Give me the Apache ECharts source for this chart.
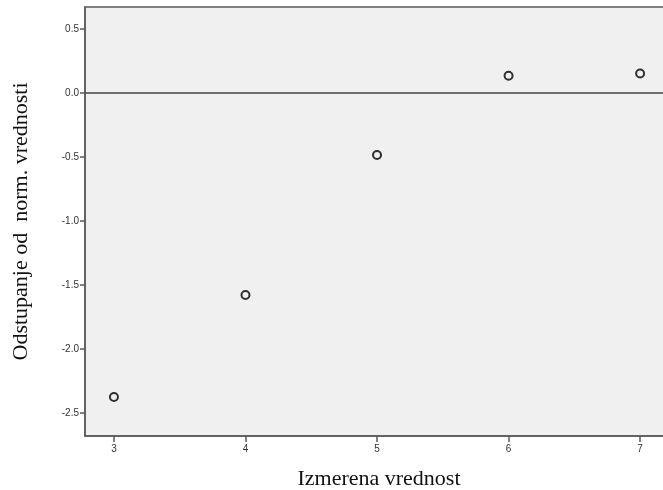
<!DOCTYPE html>
<html>
<head>
<meta charset="utf-8">
<script src="https://cdn.jsdelivr.net/npm/echarts@6/dist/echarts.min.js"></script>
<style>
  html, body { margin: 0; padding: 0; background: #ffffff; }
  #chart { width: 663px; height: 490px; }
</style>
</head>
<body>
<div id="chart"></div>
<script>
// Measured value vs. deviation from normal value
const measured = [3, 4, 5, 6, 7];
const deviation = [-2.375, -1.578, -0.484, 0.135, 0.152];
const xTicks = [3, 4, 5, 6, 7];
const yTicks = [-2.5, -2.0, -1.5, -1.0, -0.5, 0.0, 0.5];
const xTitle = 'Izmerena vrednost';
const yTitle = 'Odstupanje od  norm. vrednosti';

const points = measured.map((x, i) => [x, deviation[i]]);

const axisColor = '#5a5a5a';
const labelStyle = { color: '#333', fontFamily: 'Liberation Sans', fontSize: 10 };
const titleStyle = { fontFamily: 'Liberation Serif', fontSize: 22, color: '#111' };

const chart = echarts.init(document.getElementById('chart'));
chart.setOption({
  backgroundColor: '#ffffff',
  animation: false,
  grid: {
    left: 85, top: 7, bottom: 54, right: -10,
    outerBoundsMode: 'none',
    containLabel: false,
    show: true,
    backgroundColor: '#f0f0f0',
    borderColor: axisColor,
    borderWidth: 1.5
  },
  xAxis: {
    type: 'value',
    min: 2.78, max: 7.25,
    name: xTitle,
    nameLocation: 'middle',
    nameGap: 32,
    nameTextStyle: titleStyle,
    axisLine: { onZero: false, lineStyle: { color: axisColor, width: 1.5 } },
    axisTick: { show: true, length: 6, customValues: xTicks, lineStyle: { color: axisColor, width: 1.5 } },
    axisLabel: { customValues: xTicks, margin: 8, ...labelStyle },
    splitLine: { show: false }
  },
  yAxis: {
    type: 'value',
    min: -2.68, max: 0.672,
    name: yTitle,
    nameLocation: 'middle',
    nameGap: 53,
    nameRotate: 90,
    nameTextStyle: titleStyle,
    axisLine: { show: true, onZero: false, lineStyle: { color: axisColor, width: 1.5 } },
    axisTick: { show: true, length: 5, customValues: yTicks, lineStyle: { color: axisColor, width: 1.5 } },
    axisLabel: { customValues: yTicks, margin: 6, formatter: v => v.toFixed(1), ...labelStyle },
    splitLine: { show: false }
  },
  series: [{
    type: 'scatter',
    data: points,
    symbol: 'circle',
    symbolSize: 8,
    itemStyle: { color: 'rgba(0,0,0,0)', borderColor: '#000', borderWidth: 2 },
    markLine: {
      silent: true,
      symbol: ['none', 'none'],
      label: { show: false },
      lineStyle: { color: '#444', width: 1.5, type: 'solid' },
      data: [{ yAxis: 0 }]
    }
  }]
});
</script>
</body>
</html>
